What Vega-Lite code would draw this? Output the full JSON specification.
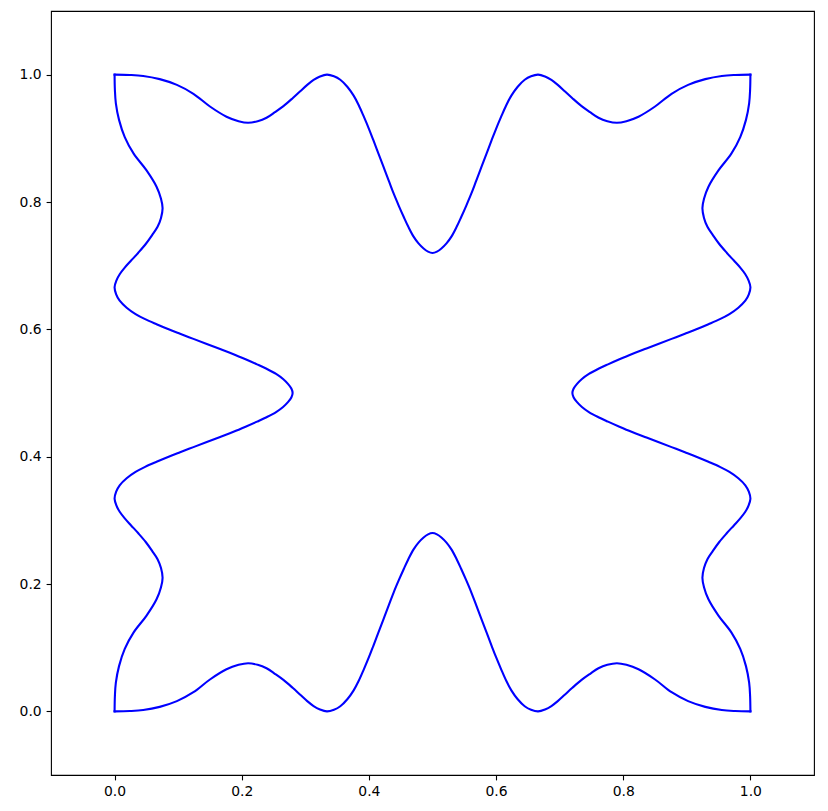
{
  "$schema": "https://vega.github.io/schema/vega-lite/v6.json",
  "width": 763,
  "height": 764,
  "autosize": {"type": "none"},
  "padding": {"left": 51, "top": 11, "right": 14, "bottom": 36},
  "background": "white",
  "config": {
    "view": {"stroke": "black", "strokeWidth": 1.1},
    "axis": {
      "grid": false,
      "domain": false,
      "ticks": true,
      "tickColor": "black",
      "tickSize": 4.9,
      "tickWidth": 1.1,
      "labelColor": "black",
      "labelFont": "DejaVu Sans",
      "labelFontSize": 13.9,
      "labelPadding": 4.9,
      "title": null
    }
  },
  "data": {
    "values": [
      {"s":"b","x":0,"y":0},{"s":"b","x":0.024,"y":0.0005},{"s":"b","x":0.045,"y":0.002},{"s":"b","x":0.071,"y":0.007},{"s":"b","x":0.098,"y":0.016},{"s":"b","x":0.124,"y":0.030},{"s":"b","x":0.150,"y":0.050},{"s":"b","x":0.176,"y":0.066},{"s":"b","x":0.195,"y":0.073},{"s":"b","x":0.210,"y":0.0755},{"s":"b","x":0.225,"y":0.073},{"s":"b","x":0.239,"y":0.0676},{"s":"b","x":0.252,"y":0.059},{"s":"b","x":0.266,"y":0.049},{"s":"b","x":0.280,"y":0.037},{"s":"b","x":0.292,"y":0.026},{"s":"b","x":0.303,"y":0.016},{"s":"b","x":0.313,"y":0.0083},{"s":"b","x":0.323,"y":0.003},{"s":"b","x":0.334,"y":0},{"s":"b","x":0.345,"y":0.0025},{"s":"b","x":0.355,"y":0.008},{"s":"b","x":0.366,"y":0.019},{"s":"b","x":0.376,"y":0.033},{"s":"b","x":0.384,"y":0.048},{"s":"b","x":0.392,"y":0.066},{"s":"b","x":0.400,"y":0.085},{"s":"b","x":0.407,"y":0.103},{"s":"b","x":0.415,"y":0.124},{"s":"b","x":0.423,"y":0.145},{"s":"b","x":0.431,"y":0.166},{"s":"b","x":0.439,"y":0.187},{"s":"b","x":0.447,"y":0.206},{"s":"b","x":0.455,"y":0.224},{"s":"b","x":0.462,"y":0.239},{"s":"b","x":0.470,"y":0.254},{"s":"b","x":0.478,"y":0.265},{"s":"b","x":0.486,"y":0.273},{"s":"b","x":0.493,"y":0.278},{"s":"b","x":0.5,"y":0.28},{"s":"b","x":0.507,"y":0.278},{"s":"b","x":0.514,"y":0.273},{"s":"b","x":0.522,"y":0.265},{"s":"b","x":0.530,"y":0.254},{"s":"b","x":0.538,"y":0.239},{"s":"b","x":0.545,"y":0.224},{"s":"b","x":0.553,"y":0.206},{"s":"b","x":0.561,"y":0.187},{"s":"b","x":0.569,"y":0.166},{"s":"b","x":0.577,"y":0.145},{"s":"b","x":0.585,"y":0.124},{"s":"b","x":0.593,"y":0.103},{"s":"b","x":0.600,"y":0.085},{"s":"b","x":0.608,"y":0.066},{"s":"b","x":0.616,"y":0.048},{"s":"b","x":0.624,"y":0.033},{"s":"b","x":0.634,"y":0.019},{"s":"b","x":0.645,"y":0.008},{"s":"b","x":0.655,"y":0.0025},{"s":"b","x":0.666,"y":0},{"s":"b","x":0.677,"y":0.003},{"s":"b","x":0.687,"y":0.0083},{"s":"b","x":0.697,"y":0.016},{"s":"b","x":0.708,"y":0.026},{"s":"b","x":0.720,"y":0.037},{"s":"b","x":0.734,"y":0.049},{"s":"b","x":0.748,"y":0.059},{"s":"b","x":0.761,"y":0.0676},{"s":"b","x":0.775,"y":0.073},{"s":"b","x":0.790,"y":0.0755},{"s":"b","x":0.805,"y":0.073},{"s":"b","x":0.824,"y":0.066},{"s":"b","x":0.850,"y":0.050},{"s":"b","x":0.876,"y":0.030},{"s":"b","x":0.902,"y":0.016},{"s":"b","x":0.929,"y":0.007},{"s":"b","x":0.955,"y":0.002},{"s":"b","x":0.976,"y":0.0005},{"s":"b","x":1,"y":0},
      {"s":"r","x":1,"y":0},{"s":"r","x":0.9995,"y":0.024},{"s":"r","x":0.998,"y":0.045},{"s":"r","x":0.993,"y":0.071},{"s":"r","x":0.984,"y":0.098},{"s":"r","x":0.970,"y":0.124},{"s":"r","x":0.950,"y":0.150},{"s":"r","x":0.934,"y":0.176},{"s":"r","x":0.927,"y":0.195},{"s":"r","x":0.9245,"y":0.210},{"s":"r","x":0.927,"y":0.225},{"s":"r","x":0.9324,"y":0.239},{"s":"r","x":0.941,"y":0.252},{"s":"r","x":0.951,"y":0.266},{"s":"r","x":0.963,"y":0.280},{"s":"r","x":0.974,"y":0.292},{"s":"r","x":0.984,"y":0.303},{"s":"r","x":0.9917,"y":0.313},{"s":"r","x":0.997,"y":0.323},{"s":"r","x":1,"y":0.334},{"s":"r","x":0.9975,"y":0.345},{"s":"r","x":0.992,"y":0.355},{"s":"r","x":0.981,"y":0.366},{"s":"r","x":0.967,"y":0.376},{"s":"r","x":0.952,"y":0.384},{"s":"r","x":0.934,"y":0.392},{"s":"r","x":0.915,"y":0.400},{"s":"r","x":0.897,"y":0.407},{"s":"r","x":0.876,"y":0.415},{"s":"r","x":0.855,"y":0.423},{"s":"r","x":0.834,"y":0.431},{"s":"r","x":0.813,"y":0.439},{"s":"r","x":0.794,"y":0.447},{"s":"r","x":0.776,"y":0.455},{"s":"r","x":0.761,"y":0.462},{"s":"r","x":0.746,"y":0.470},{"s":"r","x":0.735,"y":0.478},{"s":"r","x":0.727,"y":0.486},{"s":"r","x":0.722,"y":0.493},{"s":"r","x":0.72,"y":0.5},{"s":"r","x":0.722,"y":0.507},{"s":"r","x":0.727,"y":0.514},{"s":"r","x":0.735,"y":0.522},{"s":"r","x":0.746,"y":0.530},{"s":"r","x":0.761,"y":0.538},{"s":"r","x":0.776,"y":0.545},{"s":"r","x":0.794,"y":0.553},{"s":"r","x":0.813,"y":0.561},{"s":"r","x":0.834,"y":0.569},{"s":"r","x":0.855,"y":0.577},{"s":"r","x":0.876,"y":0.585},{"s":"r","x":0.897,"y":0.593},{"s":"r","x":0.915,"y":0.600},{"s":"r","x":0.934,"y":0.608},{"s":"r","x":0.952,"y":0.616},{"s":"r","x":0.967,"y":0.624},{"s":"r","x":0.981,"y":0.634},{"s":"r","x":0.992,"y":0.645},{"s":"r","x":0.9975,"y":0.655},{"s":"r","x":1,"y":0.666},{"s":"r","x":0.997,"y":0.677},{"s":"r","x":0.9917,"y":0.687},{"s":"r","x":0.984,"y":0.697},{"s":"r","x":0.974,"y":0.708},{"s":"r","x":0.963,"y":0.720},{"s":"r","x":0.951,"y":0.734},{"s":"r","x":0.941,"y":0.748},{"s":"r","x":0.9324,"y":0.761},{"s":"r","x":0.927,"y":0.775},{"s":"r","x":0.9245,"y":0.790},{"s":"r","x":0.927,"y":0.805},{"s":"r","x":0.934,"y":0.824},{"s":"r","x":0.950,"y":0.850},{"s":"r","x":0.970,"y":0.876},{"s":"r","x":0.984,"y":0.902},{"s":"r","x":0.993,"y":0.929},{"s":"r","x":0.998,"y":0.955},{"s":"r","x":0.9995,"y":0.976},{"s":"r","x":1,"y":1},
      {"s":"t","x":1,"y":1},{"s":"t","x":0.976,"y":0.9995},{"s":"t","x":0.955,"y":0.998},{"s":"t","x":0.929,"y":0.993},{"s":"t","x":0.902,"y":0.984},{"s":"t","x":0.876,"y":0.970},{"s":"t","x":0.850,"y":0.950},{"s":"t","x":0.824,"y":0.934},{"s":"t","x":0.805,"y":0.927},{"s":"t","x":0.790,"y":0.9245},{"s":"t","x":0.775,"y":0.927},{"s":"t","x":0.761,"y":0.9324},{"s":"t","x":0.748,"y":0.941},{"s":"t","x":0.734,"y":0.951},{"s":"t","x":0.720,"y":0.963},{"s":"t","x":0.708,"y":0.974},{"s":"t","x":0.697,"y":0.984},{"s":"t","x":0.687,"y":0.9917},{"s":"t","x":0.677,"y":0.997},{"s":"t","x":0.666,"y":1},{"s":"t","x":0.655,"y":0.9975},{"s":"t","x":0.645,"y":0.992},{"s":"t","x":0.634,"y":0.981},{"s":"t","x":0.624,"y":0.967},{"s":"t","x":0.616,"y":0.952},{"s":"t","x":0.608,"y":0.934},{"s":"t","x":0.600,"y":0.915},{"s":"t","x":0.593,"y":0.897},{"s":"t","x":0.585,"y":0.876},{"s":"t","x":0.577,"y":0.855},{"s":"t","x":0.569,"y":0.834},{"s":"t","x":0.561,"y":0.813},{"s":"t","x":0.553,"y":0.794},{"s":"t","x":0.545,"y":0.776},{"s":"t","x":0.538,"y":0.761},{"s":"t","x":0.530,"y":0.746},{"s":"t","x":0.522,"y":0.735},{"s":"t","x":0.514,"y":0.727},{"s":"t","x":0.507,"y":0.722},{"s":"t","x":0.5,"y":0.72},{"s":"t","x":0.493,"y":0.722},{"s":"t","x":0.486,"y":0.727},{"s":"t","x":0.478,"y":0.735},{"s":"t","x":0.470,"y":0.746},{"s":"t","x":0.462,"y":0.761},{"s":"t","x":0.455,"y":0.776},{"s":"t","x":0.447,"y":0.794},{"s":"t","x":0.439,"y":0.813},{"s":"t","x":0.431,"y":0.834},{"s":"t","x":0.423,"y":0.855},{"s":"t","x":0.415,"y":0.876},{"s":"t","x":0.407,"y":0.897},{"s":"t","x":0.400,"y":0.915},{"s":"t","x":0.392,"y":0.934},{"s":"t","x":0.384,"y":0.952},{"s":"t","x":0.376,"y":0.967},{"s":"t","x":0.366,"y":0.981},{"s":"t","x":0.355,"y":0.992},{"s":"t","x":0.345,"y":0.9975},{"s":"t","x":0.334,"y":1},{"s":"t","x":0.323,"y":0.997},{"s":"t","x":0.313,"y":0.9917},{"s":"t","x":0.303,"y":0.984},{"s":"t","x":0.292,"y":0.974},{"s":"t","x":0.280,"y":0.963},{"s":"t","x":0.266,"y":0.951},{"s":"t","x":0.252,"y":0.941},{"s":"t","x":0.239,"y":0.9324},{"s":"t","x":0.225,"y":0.927},{"s":"t","x":0.210,"y":0.9245},{"s":"t","x":0.195,"y":0.927},{"s":"t","x":0.176,"y":0.934},{"s":"t","x":0.150,"y":0.950},{"s":"t","x":0.124,"y":0.970},{"s":"t","x":0.098,"y":0.984},{"s":"t","x":0.071,"y":0.993},{"s":"t","x":0.045,"y":0.998},{"s":"t","x":0.024,"y":0.9995},{"s":"t","x":0,"y":1},
      {"s":"l","x":0,"y":1},{"s":"l","x":0.0005,"y":0.976},{"s":"l","x":0.002,"y":0.955},{"s":"l","x":0.007,"y":0.929},{"s":"l","x":0.016,"y":0.902},{"s":"l","x":0.030,"y":0.876},{"s":"l","x":0.050,"y":0.850},{"s":"l","x":0.066,"y":0.824},{"s":"l","x":0.073,"y":0.805},{"s":"l","x":0.0755,"y":0.790},{"s":"l","x":0.073,"y":0.775},{"s":"l","x":0.0676,"y":0.761},{"s":"l","x":0.059,"y":0.748},{"s":"l","x":0.049,"y":0.734},{"s":"l","x":0.037,"y":0.720},{"s":"l","x":0.026,"y":0.708},{"s":"l","x":0.016,"y":0.697},{"s":"l","x":0.0083,"y":0.687},{"s":"l","x":0.003,"y":0.677},{"s":"l","x":0,"y":0.666},{"s":"l","x":0.0025,"y":0.655},{"s":"l","x":0.008,"y":0.645},{"s":"l","x":0.019,"y":0.634},{"s":"l","x":0.033,"y":0.624},{"s":"l","x":0.048,"y":0.616},{"s":"l","x":0.066,"y":0.608},{"s":"l","x":0.085,"y":0.600},{"s":"l","x":0.103,"y":0.593},{"s":"l","x":0.124,"y":0.585},{"s":"l","x":0.145,"y":0.577},{"s":"l","x":0.166,"y":0.569},{"s":"l","x":0.187,"y":0.561},{"s":"l","x":0.206,"y":0.553},{"s":"l","x":0.224,"y":0.545},{"s":"l","x":0.239,"y":0.538},{"s":"l","x":0.254,"y":0.530},{"s":"l","x":0.265,"y":0.522},{"s":"l","x":0.273,"y":0.514},{"s":"l","x":0.278,"y":0.507},{"s":"l","x":0.28,"y":0.5},{"s":"l","x":0.278,"y":0.493},{"s":"l","x":0.273,"y":0.486},{"s":"l","x":0.265,"y":0.478},{"s":"l","x":0.254,"y":0.470},{"s":"l","x":0.239,"y":0.462},{"s":"l","x":0.224,"y":0.455},{"s":"l","x":0.206,"y":0.447},{"s":"l","x":0.187,"y":0.439},{"s":"l","x":0.166,"y":0.431},{"s":"l","x":0.145,"y":0.423},{"s":"l","x":0.124,"y":0.415},{"s":"l","x":0.103,"y":0.407},{"s":"l","x":0.085,"y":0.400},{"s":"l","x":0.066,"y":0.392},{"s":"l","x":0.048,"y":0.384},{"s":"l","x":0.033,"y":0.376},{"s":"l","x":0.019,"y":0.366},{"s":"l","x":0.008,"y":0.355},{"s":"l","x":0.0025,"y":0.345},{"s":"l","x":0,"y":0.334},{"s":"l","x":0.003,"y":0.323},{"s":"l","x":0.0083,"y":0.313},{"s":"l","x":0.016,"y":0.303},{"s":"l","x":0.026,"y":0.292},{"s":"l","x":0.037,"y":0.280},{"s":"l","x":0.049,"y":0.266},{"s":"l","x":0.059,"y":0.252},{"s":"l","x":0.0676,"y":0.239},{"s":"l","x":0.073,"y":0.225},{"s":"l","x":0.0755,"y":0.210},{"s":"l","x":0.073,"y":0.195},{"s":"l","x":0.066,"y":0.176},{"s":"l","x":0.050,"y":0.150},{"s":"l","x":0.030,"y":0.124},{"s":"l","x":0.016,"y":0.098},{"s":"l","x":0.007,"y":0.071},{"s":"l","x":0.002,"y":0.045},{"s":"l","x":0.0005,"y":0.024},{"s":"l","x":0,"y":0}
    ]
  },
  "mark": {"type": "line", "stroke": "#0000ff", "strokeWidth": 2.1, "strokeJoin": "round", "strokeCap": "square", "interpolate": "catmull-rom"},
  "encoding": {
    "x": {
      "field": "x", "type": "quantitative",
      "scale": {"domain": [-0.1, 1.1], "nice": false, "zero": false},
      "axis": {"values": [0, 0.2, 0.4, 0.6, 0.8, 1.0], "format": ".1f"}
    },
    "y": {
      "field": "y", "type": "quantitative",
      "scale": {"domain": [-0.1, 1.1], "nice": false, "zero": false},
      "axis": {"values": [0, 0.2, 0.4, 0.6, 0.8, 1.0], "format": ".1f"}
    },
    "detail": {"field": "s", "type": "nominal"},
    "order": {"value": null}
  }
}
